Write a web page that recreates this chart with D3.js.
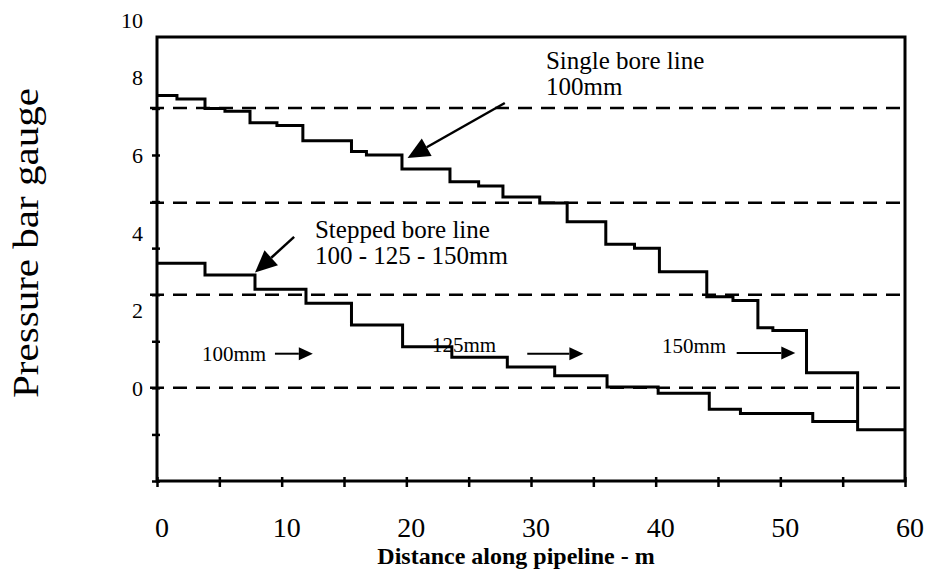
<!DOCTYPE html>
<html>
<head>
<meta charset="utf-8">
<script src="https://cdn.jsdelivr.net/npm/d3@7"></script>
<style>
    body { margin: 0; background: #fff; }
    svg text { font-family: "Liberation Serif", "Times New Roman", serif; fill: #000; }
</style>
</head>
<body>
<svg id="chart" width="925" height="574"></svg>
<script>
// distance (m) where each step starts, last entry = end of line
const singleX = [0, 1.6, 3.85, 5.45, 7.46, 9.62, 11.7, 15.6, 16.8, 19.65, 23.5, 25.8, 27.75, 30.7, 32.9, 36.0, 38.3, 40.3, 44.1, 46.2, 48.2, 49.4, 52.1, 56.2, 60];
const singleP = [7.53, 7.44, 7.20, 7.13, 6.83, 6.76, 6.37, 6.09, 6.00, 5.64, 5.31, 5.20, 4.92, 4.76, 4.28, 3.70, 3.60, 2.99, 2.35, 2.25, 1.55, 1.48, 0.39, -1.08];
const steppedX = [0, 3.85, 7.86, 11.95, 15.6, 19.7, 23.65, 28.1, 31.9, 36.1, 40.2, 44.3, 46.8, 52.6, 56.2];
const steppedP = [3.21, 2.91, 2.54, 2.18, 1.62, 1.06, 0.79, 0.54, 0.31, 0.02, -0.14, -0.55, -0.66, -0.87];

const refLevels = [7.21, 4.77, 2.40, 0];
const xTicks = d3.range(0, 61, 5);
const xLabels = [0, 10, 20, 30, 40, 50, 60];
const yTicks = [-2.4, -1.2, 0, 1.2, 2.4, 3.6, 4.8, 6.0, 7.2];
const yLabels = [0, 2, 4, 6, 8, 10];

const callouts = [
    { lines: ["Single bore line", "100mm"], x: 31.2, y: 8.22, from: [27.9, 7.34], to: [20.1, 5.92] },
    { lines: ["Stepped bore line", "100 - 125 - 150mm"], x: 12.67, y: 3.86, from: [11.0, 3.89], to: [7.86, 2.97] }
];
const boreLabels = [
    { text: "100mm", x: 3.6, y: 0.88, ax: [9.46, 12.5], ay: 0.88 },
    { text: "125mm", x: 22.06, y: 1.11, ax: [29.7, 34.2], ay: 0.88 },
    { text: "150mm", x: 40.5, y: 1.08, ax: [46.5, 51.2], ay: 0.90 }
];

const svg = d3.select("#chart");
const x = d3.scaleLinear().domain([0, 60]).range([157, 905]);
const y = d3.scaleLinear().domain([-2.4, 9.04]).range([481, 37]);

// reference pressure lines (dashed)
svg.selectAll(".ref-line")
    .data(refLevels)
    .enter().append("line")
    .attr("class", "ref-line")
    .attr("x1", x(0) - 7)
    .attr("x2", x(60))
    .attr("y1", d => y(d))
    .attr("y2", d => y(d))
    .attr("stroke", "#000")
    .attr("stroke-width", 2.5)
    .attr("stroke-dasharray", "14,9");

// frame
svg.append("rect")
    .attr("x", x(0))
    .attr("y", y(9.04))
    .attr("width", x(60) - x(0))
    .attr("height", y(-2.4) - y(9.04))
    .attr("fill", "none")
    .attr("stroke", "#000")
    .attr("stroke-width", 3);

// axes ticks
const xAxis = d3.axisBottom(x).tickValues(xTicks).tickSize(6).tickFormat("");
const gx = svg.append("g").attr("transform", `translate(0,${y(-2.4)})`).call(xAxis);
gx.select(".domain").remove();
gx.selectAll(".tick line").attr("y1", -4).attr("stroke-width", 2.5);

const yAxis = d3.axisLeft(y).tickValues(yTicks).tickSize(6).tickFormat("");
const gy = svg.append("g").attr("transform", `translate(${x(0)},0)`).call(yAxis);
gy.select(".domain").remove();
gy.selectAll(".tick line").attr("x2", -5).attr("x1", 3).attr("stroke-width", 2.5);

// tick labels
svg.selectAll(".x-label")
    .data(xLabels)
    .enter().append("text")
    .attr("class", "x-label")
    .attr("x", d => x(d) + 5)
    .attr("y", 537)
    .attr("text-anchor", "middle")
    .style("font-size", "28px")
    .text(d => d);

svg.selectAll(".y-label")
    .data(yLabels)
    .enter().append("text")
    .attr("class", "y-label")
    .attr("x", 143)
    .attr("y", d => Math.max(y(d), 20) + 8)
    .attr("text-anchor", "end")
    .style("font-size", "22px")
    .text(d => d);

// axis titles
svg.append("text")
    .attr("x", 516)
    .attr("y", 564)
    .attr("text-anchor", "middle")
    .style("font-size", "24px")
    .style("font-weight", "bold")
    .text("Distance along pipeline - m");

svg.append("text")
    .attr("transform", "translate(38,243) rotate(-90)")
    .attr("text-anchor", "middle")
    .attr("textLength", 310)
    .attr("lengthAdjust", "spacingAndGlyphs")
    .style("font-size", "36px")
    .text("Pressure bar gauge");

// step lines
const stepLine = d3.line()
    .x(d => x(d[0]))
    .y(d => y(d[1]))
    .curve(d3.curveStepAfter);

function toPoints(xs, ps) {
    return xs.map((v, i) => [v, ps[Math.min(i, ps.length - 1)]]);
}

[[singleX, singleP], [steppedX, steppedP]].forEach(([xs, ps]) => {
    svg.append("path")
        .datum(toPoints(xs, ps))
        .attr("d", stepLine)
        .attr("fill", "none")
        .attr("stroke", "#000")
        .attr("stroke-width", 3);
});

// arrows
function arrow(x1, y1, x2, y2, len, half, width) {
    const ang = Math.atan2(y2 - y1, x2 - x1);
    const bx = x2 - len * Math.cos(ang), by = y2 - len * Math.sin(ang);
    svg.append("line")
        .attr("x1", x1).attr("y1", y1)
        .attr("x2", bx).attr("y2", by)
        .attr("stroke", "#000")
        .attr("stroke-width", width);
    const px = -Math.sin(ang) * half, py = Math.cos(ang) * half;
    svg.append("polygon")
        .attr("points", `${x2},${y2} ${bx + px},${by + py} ${bx - px},${by - py}`)
        .attr("fill", "#000");
}

callouts.forEach(c => {
    const t = svg.append("text")
        .attr("x", x(c.x))
        .attr("y", y(c.y))
        .style("font-size", "25px");
    c.lines.forEach((line, i) => {
        t.append("tspan").attr("x", x(c.x)).attr("dy", i === 0 ? 0 : 26).text(line);
    });
    arrow(x(c.from[0]), y(c.from[1]), x(c.to[0]), y(c.to[1]), 22, 10, 2.5);
});

boreLabels.forEach(b => {
    svg.append("text")
        .attr("x", x(b.x))
        .attr("y", y(b.y) + 7)
        .style("font-size", "21px")
        .text(b.text);
    arrow(x(b.ax[0]), y(b.ay), x(b.ax[1]), y(b.ay), 14, 6.5, 2);
});
</script>
</body>
</html>
